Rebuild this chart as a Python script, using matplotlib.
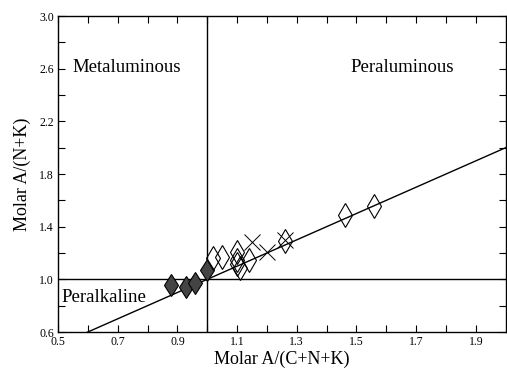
import matplotlib
matplotlib.use("Agg")
import matplotlib.pyplot as plt
import numpy as np

"""
Alumina saturation plot: A/(N+K) vs A/(C+N+K).
"""

plt.rcParams['font.family'] = ['Liberation Serif', 'DejaVu Serif']

# peralkaline / borderline samples (filled diamonds)
filled_x = [0.88, 0.93, 0.96, 1.00]
filled_y = [0.96, 0.945, 0.97, 1.07]

# peraluminous samples (open diamonds)
open_x = [1.02, 1.05, 1.10, 1.10, 1.10, 1.11, 1.14, 1.26, 1.46, 1.56]
open_y = [1.16, 1.17, 1.21, 1.15, 1.12, 1.085, 1.15, 1.29, 1.49, 1.56]

# cross samples
cross_x = [1.15, 1.20, 1.26]
cross_y = [1.28, 1.21, 1.30]

# reference line A/CNK = A/NK
ref_x = [0.59, 2.0]
ref_y = [0.59, 2.0]


def make_plot(output_path):
    fig = plt.figure(figsize=(5.07, 3.70), dpi=100)
    ax = fig.add_axes([0.1144, 0.1027, 0.883, 0.854])

    ax.set_xlim(0.5, 2.0)
    ax.set_ylim(0.6, 3.0)

    # field boundaries
    ax.axhline(1.0, color='black', linewidth=1.0)
    ax.axvline(1.0, color='black', linewidth=1.0)
    ax.plot(ref_x, ref_y, color='black', linewidth=1.0)

    ax.plot(filled_x, filled_y, linestyle='none', marker='d', markersize=11.5,
            markerfacecolor='#444444', markeredgecolor='black', markeredgewidth=0.8)
    ax.plot(open_x, open_y, linestyle='none', marker='d', markersize=12.5,
            markerfacecolor='none', markeredgecolor='black', markeredgewidth=0.8)
    ax.plot(cross_x, cross_y, linestyle='none', marker='x', markersize=12,
            color='black', markeredgewidth=0.7)

    ax.text(0.55, 2.61, "Metaluminous", fontsize=13.5, va='center', ha='left')
    ax.text(1.48, 2.61, "Peraluminous", fontsize=13.5, va='center', ha='left')
    ax.text(0.513, 0.86, "Peralkaline", fontsize=13.5, va='center', ha='left')

    ax.set_xticks(np.arange(0.5, 1.95, 0.2))
    ax.set_xticks(np.arange(0.6, 2.0, 0.2), minor=True)
    ax.set_yticks(np.arange(0.6, 3.05, 0.4))
    ax.set_yticks(np.arange(0.8, 3.0, 0.4), minor=True)
    ax.set_xticklabels([f"{v:.1f}" for v in np.arange(0.5, 1.95, 0.2)])
    ax.set_yticklabels([f"{v:.1f}" for v in np.arange(0.6, 3.05, 0.4)])
    ax.tick_params(which='both', direction='in', top=True, right=True,
                   length=5, width=0.8, labelsize=8.5, pad=3)

    for s in ax.spines.values():
        s.set_linewidth(1.0)

    ax.set_xlabel("Molar A/(C+N+K)", fontsize=13, labelpad=2)
    ax.set_ylabel("Molar A/(N+K)", fontsize=13, labelpad=6)

    fig.savefig(output_path, dpi=100)
    plt.close(fig)


if __name__ == "__main__":
    make_plot("out.png")
